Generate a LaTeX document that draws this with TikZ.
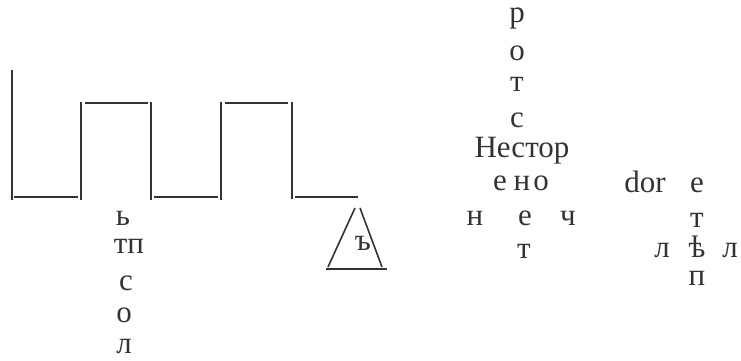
\documentclass[tikz,border=0pt]{standalone}
\usepackage{fontspec}
\setmainfont{Liberation Serif}
\definecolor{ink}{HTML}{333333}

\begin{document}
\begin{tikzpicture}[x=1pt, y=-1pt,
    wire/.style={draw=ink, line width=1.6pt},
    lttr/.style={anchor=base, inner sep=0pt, text=ink, font=\fontsize{31}{34}\selectfont}]
  \useasboundingbox (0,0) rectangle (741,361);
  \draw[wire] (12,70) -- (12,200);
  \draw[wire] (14,197) -- (78,197);
  \draw[wire] (81,102) -- (81,200);
  \draw[wire] (85,103) -- (148,103);
  \draw[wire] (151,102) -- (151,200);
  \draw[wire] (154,197) -- (218,197);
  \draw[wire] (221,102) -- (221,200);
  \draw[wire] (225,103) -- (288,103);
  \draw[wire] (292,102) -- (292,199);
  \draw[wire] (295,197) -- (358,197);
  \draw[wire] (355,208) -- (328,267);
  \draw[wire] (360,208) -- (382,267);
  \draw[wire] (326,269) -- (387,269);
  \node[lttr] (tri) at (363,250) {ъ};
  \node[lttr] (colA) at (123,225) {ь};
  \node[lttr] (colB) at (129,253) {тп};
  \node[lttr] (colC) at (126,290) {с};
  \node[lttr] (colD) at (124,322) {о};
  \node[lttr] (colE) at (124,353) {л};
  \node[lttr] (upA) at (517,23) {р};
  \node[lttr] (upB) at (517,60) {о};
  \node[lttr] (upC) at (517,92) {т};
  \node[lttr] (upD) at (517,127) {с};
  \node[lttr] (nestor) at (522,157) {Нестор};
  \node[lttr] (rowAa) at (500,190) {е};
  \node[lttr] (rowAb) at (522,190) {н};
  \node[lttr] (rowAc) at (541,190) {о};
  \node[lttr] (rowBa) at (475,225) {н};
  \node[lttr] (rowBb) at (525,225) {е};
  \node[lttr] (rowBc) at (568,225) {ч};
  \node[lttr] (rowC) at (524,258) {т};
  \node[lttr] (dor) at (645,192) {dor};
  \node[lttr] (rtA) at (697,192) {е};
  \node[lttr] (rtB) at (697,227) {т};
  \node[lttr] (rtCa) at (662,257) {л};
  \node[lttr] (rtCb) at (697,257) {ѣ};
  \node[lttr] (rtCc) at (730,257) {л};
  \node[lttr] (rtD) at (697,285) {п};
\end{tikzpicture}
\end{document}
